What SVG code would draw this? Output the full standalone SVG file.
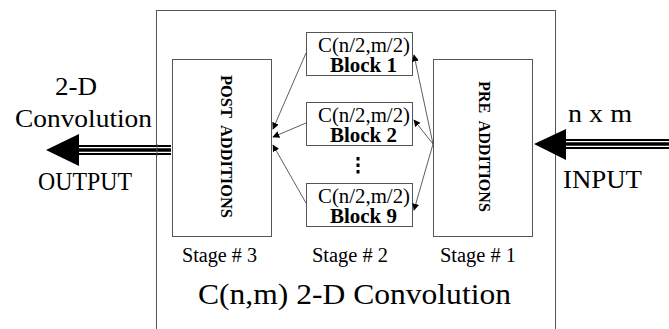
<svg xmlns="http://www.w3.org/2000/svg" width="669" height="329" viewBox="0 0 669 329">
<style>
.box{fill:#fff;stroke:#555;stroke-width:1}
.t{font-family:'Liberation Serif','Times New Roman',Tinos,'DejaVu Serif','Noto Serif',serif;fill:#000}
.b{font-weight:bold}
.con{stroke:#333;stroke-width:0.8;fill:none;marker-end:url(#ah)}
</style>
<defs>
<marker id="ah" viewBox="0 0 10 10" refX="9" refY="5" markerWidth="7" markerHeight="7" markerUnits="userSpaceOnUse" orient="auto">
<path d="M0,0 L10,5 L0,10 z" fill="#000"/>
</marker>
</defs>
<rect width="669" height="329" fill="#fff"/>
<g id="frame">
<rect class="box" x="156.5" y="10.5" width="399" height="330"/>
<text class="t" x="198" y="304" font-size="30" textLength="313" lengthAdjust="spacingAndGlyphs">C(n,m) 2-D Convolution</text>
</g>
<g id="post">
<rect class="box" x="172.5" y="59.5" width="99" height="177"/>
<text class="t b" transform="translate(226,146.5) rotate(90)" text-anchor="middle" dominant-baseline="central" font-size="17" textLength="143" lengthAdjust="spacingAndGlyphs" xml:space="preserve">POST  ADDITIONS</text>
<text class="t" x="182" y="262" font-size="20" textLength="75" lengthAdjust="spacingAndGlyphs">Stage # 3</text>
</g>
<g id="pre">
<rect class="box" x="433.5" y="59.5" width="99" height="177"/>
<text class="t b" transform="translate(484.5,146.5) rotate(90)" text-anchor="middle" dominant-baseline="central" font-size="17" textLength="131" lengthAdjust="spacingAndGlyphs" xml:space="preserve">PRE  ADDITIONS</text>
<text class="t" x="440" y="262" font-size="20" textLength="76" lengthAdjust="spacingAndGlyphs">Stage # 1</text>
</g>
<g id="block1">
<rect class="box" x="306.5" y="32.5" width="106" height="43"/>
<text class="t" x="318" y="52" font-size="20" textLength="92" lengthAdjust="spacingAndGlyphs">C(n/2,m/2)</text>
<text class="t b" x="330" y="72" font-size="20" textLength="67" lengthAdjust="spacingAndGlyphs">Block 1</text>
</g>
<g id="block2">
<rect class="box" x="306.5" y="102.5" width="106" height="43"/>
<text class="t" x="318" y="122" font-size="20" textLength="92" lengthAdjust="spacingAndGlyphs">C(n/2,m/2)</text>
<text class="t b" x="330" y="142" font-size="20" textLength="67" lengthAdjust="spacingAndGlyphs">Block 2</text>
</g>
<g id="dots">
<rect x="356.5" y="157" width="3" height="3.5" fill="#000"/>
<rect x="356.5" y="163.5" width="3" height="3.5" fill="#000"/>
<rect x="356.5" y="170" width="3" height="3.5" fill="#000"/>
</g>
<g id="block9">
<rect class="box" x="306.5" y="183.5" width="106" height="43"/>
<text class="t" x="318" y="203" font-size="20" textLength="92" lengthAdjust="spacingAndGlyphs">C(n/2,m/2)</text>
<text class="t b" x="330" y="223" font-size="20" textLength="67" lengthAdjust="spacingAndGlyphs">Block 9</text>
<text class="t" x="312" y="262" font-size="20" textLength="76" lengthAdjust="spacingAndGlyphs">Stage # 2</text>
</g>
<g id="output">
<polygon points="46,150 79,134 79,166" fill="#000"/>
<rect x="79" y="145" width="92" height="10" fill="#000"/>
<line x1="79" y1="147.6" x2="171" y2="147.6" stroke="#fff" stroke-width="1.2"/>
<line x1="79" y1="152.4" x2="171" y2="152.4" stroke="#fff" stroke-width="1.2"/>
<line x1="157" y1="144" x2="157" y2="156" stroke="#555" stroke-width="1"/>
<text class="t" x="55" y="95" font-size="26" textLength="42" lengthAdjust="spacingAndGlyphs">2-D</text>
<text class="t" x="15" y="127" font-size="26" textLength="137" lengthAdjust="spacingAndGlyphs">Convolution</text>
<text class="t" x="38" y="190" font-size="26" textLength="94" lengthAdjust="spacingAndGlyphs">OUTPUT</text>
</g>
<g id="input">
<polygon points="534,144 566,129 566,160" fill="#000"/>
<rect x="566" y="139" width="103" height="10" fill="#000"/>
<line x1="566" y1="141.6" x2="669" y2="141.6" stroke="#fff" stroke-width="1.2"/>
<line x1="566" y1="146.4" x2="669" y2="146.4" stroke="#fff" stroke-width="1.2"/>
<text class="t" x="568" y="122" font-size="26" textLength="64" lengthAdjust="spacingAndGlyphs">n x m</text>
<text class="t" x="563" y="188" font-size="26" textLength="79" lengthAdjust="spacingAndGlyphs">INPUT</text>
</g>
<g id="connectors">
<line class="con" x1="433" y1="144" x2="414" y2="55"/>
<line class="con" x1="433" y1="144" x2="414" y2="120"/>
<line class="con" x1="433" y1="144" x2="414" y2="210"/>
<line class="con" x1="306" y1="53" x2="273" y2="129"/>
<line class="con" x1="306" y1="123" x2="273" y2="137"/>
<line class="con" x1="306" y1="203" x2="273" y2="145"/>
</g>
</svg>
